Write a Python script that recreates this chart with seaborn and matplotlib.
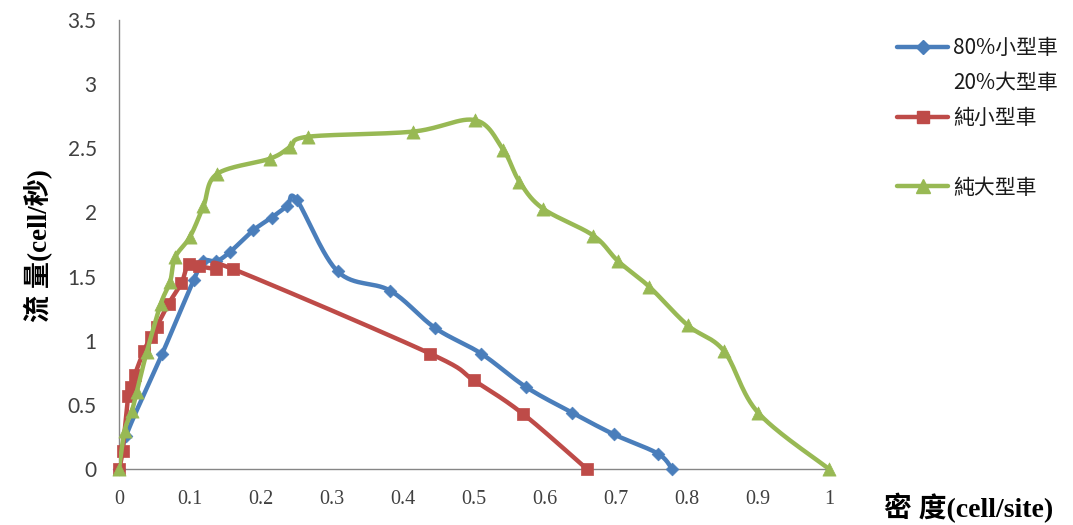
import numpy as np
import matplotlib
matplotlib.use("Agg")
import matplotlib.pyplot as plt
from matplotlib.lines import Line2D
from matplotlib.font_manager import FontProperties
import seaborn as sns

# Density (cell/site) and flow (cell/s) for each traffic mix
mixed_density = [0.0, 0.01, 0.061, 0.105, 0.119, 0.137, 0.156, 0.189, 0.215, 0.237, 0.250,
                 0.308, 0.382, 0.445, 0.510, 0.573, 0.638, 0.697, 0.759, 0.779]
mixed_flow = [0.0, 0.26, 0.90, 1.47, 1.62, 1.62, 1.69, 1.86, 1.96, 2.05, 2.10,
              1.54, 1.39, 1.10, 0.90, 0.64, 0.44, 0.27, 0.12, 0.0]

small_density = [0.0, 0.005, 0.013, 0.017, 0.022, 0.035, 0.045, 0.053, 0.070, 0.088,
                 0.098, 0.113, 0.137, 0.160, 0.438, 0.500, 0.569, 0.659]
small_flow = [0.0, 0.14, 0.57, 0.64, 0.73, 0.92, 1.03, 1.11, 1.29, 1.45,
              1.60, 1.58, 1.56, 1.56, 0.90, 0.69, 0.43, 0.0]

large_density = [0.0, 0.008, 0.018, 0.025, 0.039, 0.059, 0.072, 0.079, 0.100, 0.119, 0.138,
                 0.213, 0.241, 0.266, 0.414, 0.501, 0.541, 0.564, 0.597, 0.668, 0.703,
                 0.747, 0.801, 0.852, 0.900, 1.0]
large_flow = [0.0, 0.30, 0.45, 0.60, 0.91, 1.29, 1.46, 1.65, 1.81, 2.05, 2.30,
              2.42, 2.51, 2.59, 2.63, 2.72, 2.49, 2.24, 2.03, 1.82, 1.62,
              1.42, 1.12, 0.92, 0.44, 0.0]

series_labels = ["80%小型車", "20%大型車", "純小型車", "純大型車"]
x_tick_values = [0.0, 0.1, 0.2, 0.3, 0.4, 0.5, 0.6, 0.7, 0.8, 0.9, 1.0]
x_tick_labels = ["0", "0.1", "0.2", "0.3", "0.4", "0.5", "0.6", "0.7", "0.8", "0.9", "1"]
y_tick_values = [0.0, 0.5, 1.0, 1.5, 2.0, 2.5, 3.0, 3.5]
y_tick_labels = ["0", "0.5", "1", "1.5", "2", "2.5", "3", "3.5"]

BLUE = "#4A7EBB"
RED = "#BE4B48"
GREEN = "#98B954"


def smooth_curve(xs, ys, n=30):
    """Bezier smoothing through every point (control points at +-1/6 of neighbour chord)."""
    p = np.column_stack([xs, ys]).astype(float)
    pts = np.vstack([p[0], p, p[-1]])
    t = np.linspace(0.0, 1.0, n + 1)[1:, None]
    out = [p[:1]]
    for i in range(1, len(pts) - 2):
        p0, p1, p2, p3 = pts[i - 1], pts[i], pts[i + 1], pts[i + 2]
        b1 = p1 + (p2 - p0) / 6.0
        b2 = p2 - (p3 - p1) / 6.0
        seg = ((1 - t) ** 3) * p1 + 3 * ((1 - t) ** 2) * t * b1 \
            + 3 * (1 - t) * t ** 2 * b2 + t ** 3 * p2
        out.append(seg)
    c = np.vstack(out)
    return c[:, 0], c[:, 1]


sns.set_theme(style="white")
plt.rcParams["font.family"] = ["Lato", "Noto Sans CJK TC", "DejaVu Sans"]

fig = plt.figure(figsize=(10.73, 5.25), dpi=100)
ax = fig.add_axes([119 / 1073, 1 - 469 / 525, 710 / 1073, 449 / 525])

series = [
    (mixed_density, mixed_flow, BLUE, "D", 42),
    (small_density, small_flow, RED, "s", 70),
    (large_density, large_flow, GREEN, "^", 90),
]
for i, (xs, ys, color, marker, size) in enumerate(series):
    cx, cy = smooth_curve(xs, ys)
    sns.lineplot(x=cx, y=cy, sort=False, estimator=None, color=color,
                 linewidth=3.2, ax=ax, zorder=2 + 2 * i)
    sns.scatterplot(x=xs, y=ys, marker=marker, s=size, color=color,
                    edgecolor=color, linewidth=0.5, ax=ax, zorder=3 + 2 * i,
                    clip_on=False)

ax.set_xlim(0, 1)
ax.set_ylim(0, 3.5)
ax.set_xticks(x_tick_values)
ax.set_xticklabels(x_tick_labels, family=["Liberation Serif"], fontsize=14.5)
ax.set_yticks(y_tick_values)
ax.set_yticklabels(y_tick_labels, fontsize=15)

axis_gray = "#868686"
for side in ["top", "right"]:
    ax.spines[side].set_visible(False)
for side in ["left", "bottom"]:
    ax.spines[side].set_color(axis_gray)
    ax.spines[side].set_linewidth(1.0)
ax.tick_params(axis="both", direction="out", length=6, width=1, color=axis_gray,
               labelcolor="#404040")
ax.tick_params(axis="y", pad=10)
ax.tick_params(axis="x", pad=9)
ax.set_xlabel("")
ax.set_ylabel("")

label_family = ["Liberation Serif", "Noto Sans CJK TC"]
ax.text(-0.114, 0.497, "流 量(cell/秒)", transform=ax.transAxes, rotation=90,
        ha="center", va="center", fontsize=19.5, fontweight="bold",
        family=label_family, color="black")
ax.text(1.196, -0.087, "密 度(cell/site)", transform=ax.transAxes,
        ha="center", va="center", fontsize=20, fontweight="bold",
        family=label_family, color="black")

handles = [
    Line2D([0], [0], color=BLUE, lw=3.2, marker="D", markersize=7),
    Line2D([], [], linestyle="none"),
    Line2D([0], [0], color=RED, lw=3.2, marker="s", markersize=8),
    Line2D([], [], linestyle="none"),
    Line2D([0], [0], color=GREEN, lw=3.2, marker="^", markersize=9.5),
]
labels = [series_labels[0], series_labels[1], series_labels[2], "", series_labels[3]]
leg = ax.legend(handles, labels, loc="upper left",
                bbox_to_anchor=(897 / 1073, 1 - 37 / 525),
                bbox_transform=fig.transFigure, frameon=False, borderpad=0,
                borderaxespad=0, handlelength=2.45, handletextpad=0.25,
                labelspacing=0.62,
                prop=FontProperties(family=["Noto Sans CJK TC"], size=15))
for t in leg.get_texts():
    t.set_color("#1a1a1a")

fig.savefig("out.png", dpi=100)
